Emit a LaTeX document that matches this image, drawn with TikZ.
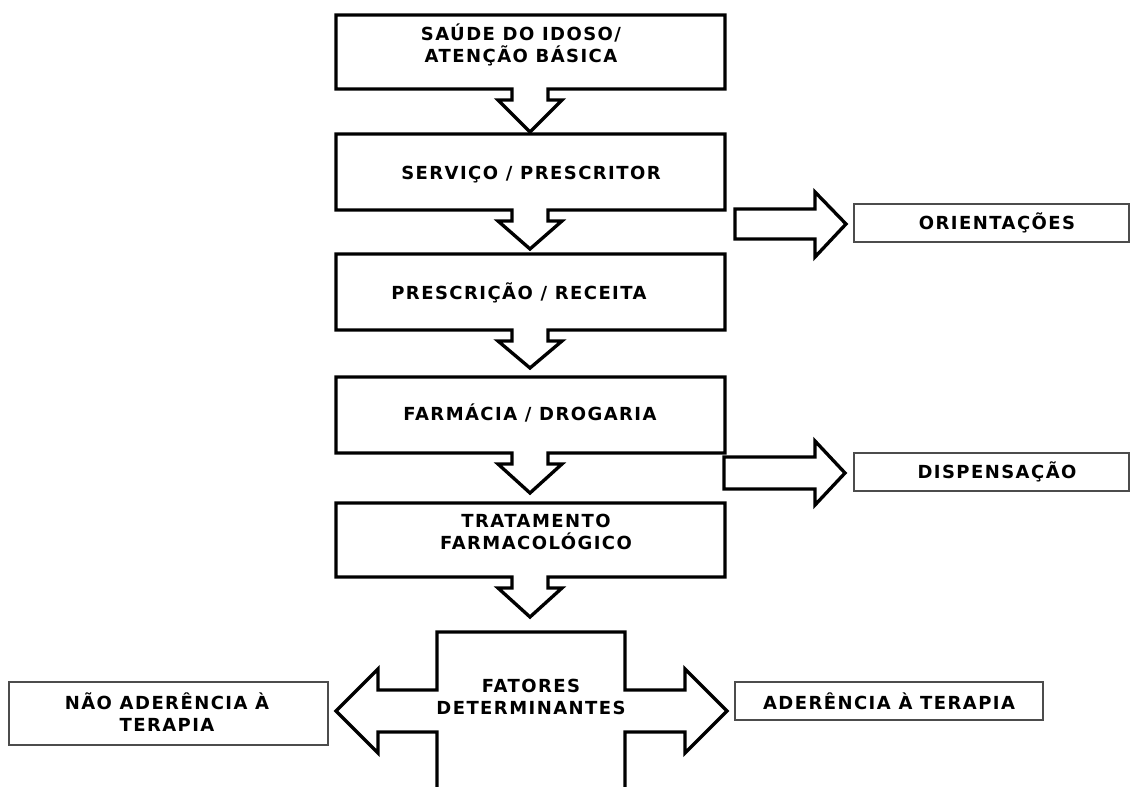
\documentclass[tikz,border=0pt]{standalone}
\usepackage{fontspec}
\setmainfont{DejaVu Sans}
\newfontfamily\boxfont{DejaVu Sans}[LetterSpace=8]
\tikzset{
    flowbox/.style={draw=black, line width=2.5pt, fill=white, line join=miter},
    sidebox/.style={draw=black!70, line width=1pt, fill=white},
    boxtext/.style={font=\boxfont\fontsize{13.5}{16.5}\selectfont\bfseries, align=center, text=black, inner sep=0pt}
}
\begin{document}
\begin{tikzpicture}[x=0.75pt, y=-0.75pt]
\useasboundingbox (0,0) rectangle (1131,787);
\fill[white] (0,0) rectangle (1131,787);

% Main column
\foreach \ya/\yb/\yt in {15/89/132, 134/210/249, 254/330/368, 377/453/493, 503/577/617} {
    \draw[flowbox] (336,\ya) -- (725,\ya) -- (725,\yb) -- (548,\yb) -- (548,\yb+11) -- (562,\yb+11)
        -- (530,\yt) -- (498,\yb+11) -- (512,\yb+11) -- (512,\yb) -- (336,\yb) -- cycle;
}
\node[boxtext] (saude) at (521,45) {SAÚDE DO IDOSO/\\ATENÇÃO BÁSICA};
\node[boxtext] (servico) at (531,175) {SERVIÇO / PRESCRITOR};
\node[boxtext] (receita) at (519,293) {PRESCRIÇÃO / RECEITA};
\node[boxtext] (farmacia) at (530,413) {FARMÁCIA / DROGARIA};
\node[boxtext] (tratamento) at (536,532) {TRATAMENTO\\FARMACOLÓGICO};

% Side arrows
\draw[flowbox] (735,209) -- (815,209) -- (815,192) -- (846,224) -- (815,257) -- (815,239) -- (735,239) -- cycle;
\draw[flowbox] (724,457) -- (815,457) -- (815,441) -- (845,473) -- (815,505) -- (815,489) -- (724,489) -- cycle;
\draw[sidebox] (854,204) rectangle (1129,242);
\node[boxtext] (orientacoes) at (997,223) {ORIENTAÇÕES};
\draw[sidebox] (854,453) rectangle (1129,491);
\node[boxtext] (dispensacao) at (997,472) {DISPENSAÇÃO};

% Fatores determinantes
\draw[flowbox, fill=none] (437,795) -- (437,732) -- (378,732) -- (378,753) -- (336,711) -- (378,669)
    -- (378,690) -- (437,690) -- (437,632) -- (625,632) -- (625,690) -- (685,690) -- (685,669)
    -- (727,711) -- (685,753) -- (685,732) -- (625,732) -- (625,795);
\node[boxtext] (fatores) at (531,697) {FATORES\\DETERMINANTES};
\draw[sidebox] (9,682) rectangle (328,745);
\node[boxtext] (naoadere) at (167,712) {NÃO ADERÊNCIA À\\TERAPIA};
\draw[sidebox] (735,682) rectangle (1043,720);
\node[boxtext] (adere) at (889,701) {ADERÊNCIA À TERAPIA};
\end{tikzpicture}
\end{document}
